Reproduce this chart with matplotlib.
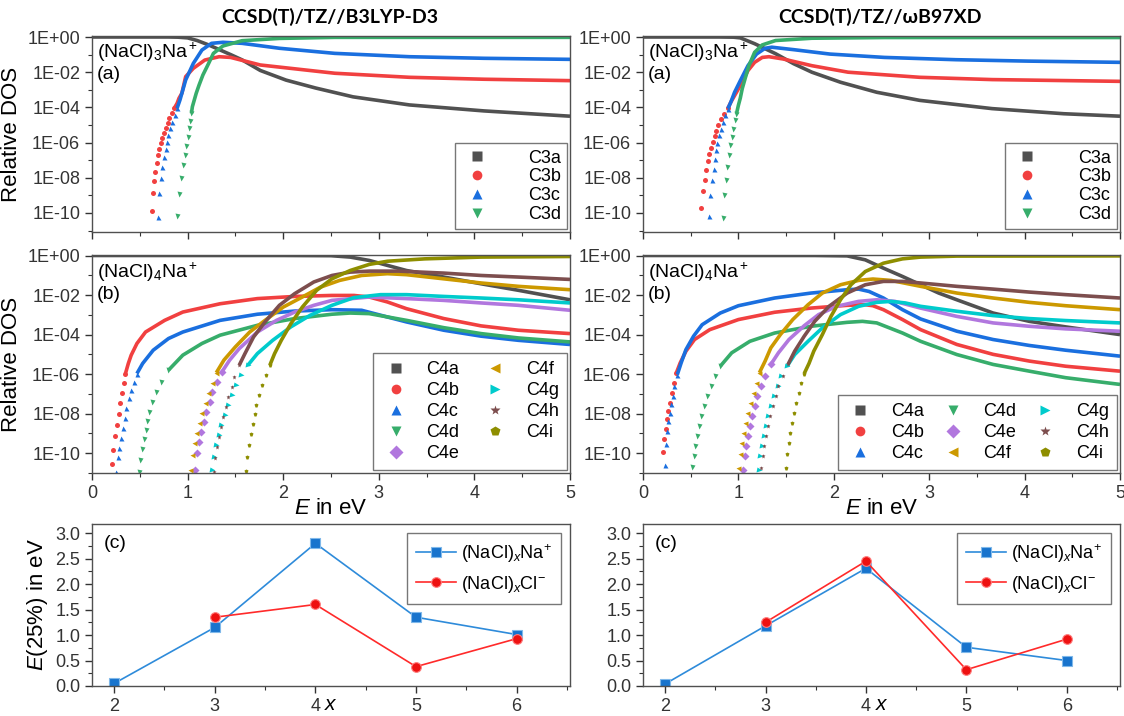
import matplotlib
matplotlib.use("Agg")
import matplotlib.pyplot as plt
import numpy as np
from matplotlib.lines import Line2D
from matplotlib.ticker import FixedLocator, FuncFormatter, MultipleLocator

plt.rcParams["font.family"] = ["Liberation Sans", "DejaVu Sans"]
plt.rcParams["mathtext.fontset"] = "custom"
plt.rcParams["mathtext.rm"] = "Liberation Sans"
plt.rcParams["mathtext.it"] = "Liberation Sans:italic"

# ---- data: energy in eV, log10 of relative DOS ----
# (a) (NaCl)3Na+, B3LYP-D3 geometries
b3_c3a_e = [0.0, 0.5, 0.8, 0.9, 1.0, 1.1, 1.22, 1.45, 1.57, 1.76, 2.03, 2.34, 2.73, 3.32, 4.1, 5.0]
b3_c3a_lg = [0, 0, 0, -0.01, -0.05, -0.2, -0.45, -1.0, -1.3, -1.9, -2.45, -2.9, -3.4, -3.86, -4.2, -4.5]
b3_c3b_e = [0.625, 0.633, 0.65, 0.664, 0.68, 0.69, 0.70, 0.72, 0.73, 0.75, 0.77, 0.79, 0.81, 0.84,
            0.86, 0.89, 0.91, 0.94, 0.98, 1.06, 1.18, 1.33, 1.45, 1.76, 2.54, 3.32, 4.1, 5.0]
b3_c3b_lg = [-9.87, -8.88, -8.18, -7.65, -7.14, -6.70, -6.36, -6.04, -5.76, -5.47, -5.19, -4.9, -4.62, -4.34,
             -4.05, -3.77, -3.48, -3.2, -2.25, -1.78, -1.31, -1.12, -1.16, -1.59, -2.06, -2.29, -2.4, -2.48]
b3_c3c_e = [0.69, 0.70, 0.72, 0.73, 0.75, 0.77, 0.78, 0.80, 0.82, 0.84, 0.87, 0.89, 0.92,
            0.98, 1.06, 1.15, 1.25, 1.37, 1.57, 1.96, 2.54, 3.32, 4.1, 5.0]
b3_c3c_lg = [-10.25, -8.88, -8.03, -7.37, -6.8, -6.36, -5.95, -5.57, -5.19, -4.81, -4.43, -4.05, -3.58,
             -2.44, -1.5, -0.74, -0.36, -0.3, -0.36, -0.64, -0.93, -1.12, -1.21, -1.27]
b3_c3d_e = [0.89, 0.91, 0.93, 0.95, 0.97, 0.98, 1.0, 1.01, 1.02, 1.04, 1.05, 1.07, 1.09,
            1.12, 1.16, 1.22, 1.27, 1.37, 1.57, 1.96, 2.54, 5.0]
b3_c3d_lg = [-10.2, -8.93, -8.03, -7.27, -6.7, -6.2, -5.66, -5.19, -4.76, -4.34, -3.96, -3.58, -3.2,
             -2.73, -2.16, -1.5, -0.93, -0.51, -0.21, -0.08, -0.02, -0.02]

# (a) (NaCl)3Na+, wB97XD geometries
wb_c3a_e = [0.0, 0.5, 0.8, 0.95, 1.02, 1.17, 1.39, 1.58, 1.77, 2.07, 2.45, 2.9, 3.66, 4.41, 5.0]
wb_c3a_lg = [0, 0, 0, -0.01, -0.05, -0.38, -0.95, -1.52, -2.0, -2.57, -3.14, -3.6, -4.07, -4.36, -4.5]
wb_c3b_e = [0.61, 0.63, 0.645, 0.66, 0.68, 0.69, 0.71, 0.73, 0.75, 0.77, 0.79, 0.82, 0.85, 0.89,
            0.92, 0.98, 1.04, 1.1, 1.17, 1.25, 1.32, 1.47, 1.77, 2.15, 2.9, 3.66, 5.0]
wb_c3b_lg = [-9.72, -8.76, -8.12, -7.53, -7.07, -6.64, -6.3, -5.98, -5.64, -5.32, -5.0, -4.66, -4.38, -4.05,
             -3.71, -3.14, -2.57, -1.91, -1.44, -1.16, -1.12, -1.25, -1.63, -2.0, -2.29, -2.42, -2.52]
wb_c3c_e = [0.69, 0.70, 0.72, 0.74, 0.75, 0.77, 0.78, 0.80, 0.82, 0.84, 0.86, 0.89, 0.92,
            0.96, 1.02, 1.1, 1.19, 1.28, 1.35, 1.58, 1.96, 2.53, 3.28, 4.03, 5.0]
wb_c3c_lg = [-10.17, -8.96, -8.14, -7.48, -6.95, -6.44, -6.0, -5.58, -5.2, -4.83, -4.45, -4.07, -3.71,
             -3.14, -2.48, -1.63, -0.97, -0.64, -0.58, -0.72, -0.97, -1.16, -1.29, -1.37, -1.44]
wb_c3d_e = [0.84, 0.85, 0.87, 0.88, 0.90, 0.91, 0.93, 0.94, 0.96, 0.98, 1.0, 1.02, 1.04,
            1.07, 1.11, 1.17, 1.25, 1.39, 1.77, 2.53, 5.0]
wb_c3d_lg = [-10.28, -9.0, -8.14, -7.39, -6.72, -6.16, -5.68, -5.2, -4.73, -4.36, -3.88, -3.47, -2.94,
             -2.37, -1.63, -0.87, -0.45, -0.2, -0.07, -0.03, -0.03]

# (b) (NaCl)4Na+, B3LYP-D3 geometries
b3_c4a_e = [0.0, 1.0, 2.0, 2.5, 2.7, 2.9, 3.09, 3.29, 3.68, 4.07, 4.46, 5.0]
b3_c4a_lg = [0, 0, 0, -0.01, -0.08, -0.25, -0.5, -0.76, -1.09, -1.43, -1.76, -2.24]
b3_c4b_e = [0.21, 0.22, 0.24, 0.26, 0.28, 0.29, 0.31, 0.33, 0.35, 0.38, 0.41, 0.47, 0.56, 0.76,
            0.95, 1.34, 1.73, 2.12, 2.51, 2.74, 2.9, 3.09, 3.29, 3.68, 4.07, 4.46, 5.0]
b3_c4b_lg = [-10.54, -9.83, -9.11, -8.57, -8.02, -7.48, -6.97, -6.47, -5.97, -5.46, -5.04, -4.45, -3.87, -3.28,
             -2.86, -2.44, -2.18, -2.07, -2.02, -2.02, -2.1, -2.35, -2.69, -3.19, -3.56, -3.78, -3.95]
b3_c4c_e = [0.25, 0.27, 0.28, 0.30, 0.32, 0.34, 0.36, 0.39, 0.41, 0.44, 0.47, 0.53, 0.64, 0.80,
            0.95, 1.34, 1.73, 2.12, 2.51, 2.82, 3.09, 3.29, 3.68, 4.07, 4.46, 5.0]
b3_c4c_lg = [-10.97, -10.17, -9.75, -9.24, -8.74, -8.24, -7.73, -7.23, -6.81, -6.39, -5.97, -5.46, -4.79, -4.2,
             -3.87, -3.28, -2.97, -2.81, -2.74, -2.77, -3.11, -3.36, -3.78, -4.08, -4.29, -4.5]
b3_c4d_e = [0.49, 0.50, 0.52, 0.54, 0.56, 0.58, 0.60, 0.63, 0.67, 0.72, 0.80, 0.95, 1.15,
            1.34, 1.73, 2.12, 2.51, 2.7, 2.9, 3.29, 3.68, 4.07, 4.46, 5.0]
b3_c4d_lg = [-10.97, -10.34, -9.8, -9.29, -8.82, -8.37, -7.9, -7.39, -6.89, -6.39, -5.8, -5.04, -4.45,
             -4.03, -3.53, -3.19, -2.97, -2.91, -2.94, -3.28, -3.65, -3.95, -4.17, -4.37]
b3_c4e_e = [1.08, 1.10, 1.12, 1.14, 1.17, 1.19, 1.23, 1.26, 1.31, 1.36, 1.44, 1.54, 1.73, 1.93,
            2.12, 2.32, 2.51, 2.9, 3.29, 3.68, 4.07, 4.46, 5.0]
b3_c4e_lg = [-10.84, -10.0, -9.41, -8.91, -8.4, -7.9, -7.39, -6.89, -6.39, -5.88, -5.29, -4.71, -3.87, -3.28,
             -2.86, -2.52, -2.27, -2.1, -2.18, -2.27, -2.4, -2.52, -2.77]
b3_c4f_e = [1.03, 1.05, 1.07, 1.09, 1.12, 1.14, 1.18, 1.21, 1.25, 1.30, 1.38, 1.50, 1.65, 1.81,
            2.0, 2.2, 2.39, 2.59, 2.82, 3.09, 3.29, 3.68, 4.07, 4.46, 5.0]
b3_c4f_lg = [-10.84, -10.08, -9.5, -8.96, -8.45, -7.95, -7.45, -6.94, -6.44, -5.93, -5.29, -4.62, -3.87, -3.28,
             -2.61, -2.1, -1.6, -1.26, -1.01, -0.92, -0.97, -1.18, -1.39, -1.56, -1.73]
b3_c4g_e = [1.26, 1.28, 1.30, 1.33, 1.35, 1.39, 1.42, 1.46, 1.51, 1.56, 1.63, 1.73, 1.89, 2.08,
            2.28, 2.51, 2.74, 3.02, 3.29, 3.68, 4.07, 4.46, 5.0]
b3_c4g_lg = [-10.87, -10.17, -9.58, -9.08, -8.57, -8.07, -7.56, -7.06, -6.55, -6.05, -5.55, -4.96, -4.29, -3.61,
             -3.03, -2.52, -2.13, -1.98, -1.98, -2.07, -2.15, -2.24, -2.4]
b3_c4h_e = [1.28, 1.29, 1.31, 1.33, 1.35, 1.37, 1.40, 1.42, 1.46, 1.49, 1.54, 1.60, 1.69, 1.81,
            1.96, 2.12, 2.32, 2.51, 2.7, 2.9, 3.21, 3.68, 4.07, 4.46, 5.0]
b3_c4h_lg = [-10.97, -10.25, -9.66, -9.16, -8.66, -8.15, -7.65, -7.14, -6.64, -6.13, -5.55, -4.96, -4.12, -3.36,
             -2.52, -1.93, -1.34, -1.01, -0.84, -0.79, -0.79, -0.89, -1.01, -1.09, -1.21]
b3_c4i_e = [1.61, 1.62, 1.64, 1.66, 1.68, 1.70, 1.72, 1.75, 1.78, 1.82, 1.86, 1.91, 1.98, 2.08,
            2.2, 2.35, 2.51, 2.7, 2.9, 3.09, 3.48, 4.07, 5.0]
b3_c4i_lg = [-10.92, -10.17, -9.58, -9.04, -8.54, -8.03, -7.56, -7.06, -6.55, -6.05, -5.55, -4.96, -4.29, -3.45,
             -2.61, -1.76, -1.18, -0.76, -0.45, -0.29, -0.17, -0.08, -0.05]

# (b) (NaCl)4Na+, wB97XD geometries
wb_c4a_e = [0.0, 1.0, 1.8, 2.14, 2.33, 2.52, 2.72, 2.91, 3.1, 3.29, 3.67, 4.05, 4.43, 5.0]
wb_c4a_lg = [0, 0, 0, -0.02, -0.22, -0.64, -1.06, -1.48, -1.9, -2.24, -2.91, -3.33, -3.61, -4.0]
wb_c4b_e = [0.21, 0.22, 0.24, 0.25, 0.26, 0.28, 0.30, 0.32, 0.35, 0.39, 0.45, 0.54, 0.70, 1.0,
            1.38, 1.76, 2.14, 2.33, 2.41, 2.52, 2.72, 2.91, 3.29, 3.67, 4.05, 4.43, 5.0]
wb_c4b_lg = [-9.92, -9.29, -8.79, -8.29, -7.87, -7.45, -6.94, -6.44, -5.93, -5.43, -4.84, -4.25, -3.75, -3.24,
             -2.87, -2.66, -2.52, -2.49, -2.54, -2.74, -3.24, -3.75, -4.5, -5.0, -5.34, -5.6, -5.85]
wb_c4c_e = [0.23, 0.24, 0.25, 0.26, 0.28, 0.29, 0.31, 0.33, 0.36, 0.40, 0.45, 0.53, 0.62, 0.81,
            1.0, 1.38, 1.76, 2.14, 2.26, 2.37, 2.52, 2.72, 2.91, 3.29, 3.67, 4.05, 4.43, 5.0]
wb_c4c_lg = [-10.6, -9.55, -8.87, -8.37, -7.95, -7.53, -7.11, -6.61, -6.02, -5.43, -4.76, -4.08, -3.5, -2.91,
             -2.54, -2.15, -1.9, -1.73, -1.7, -1.82, -2.15, -2.74, -3.21, -3.83, -4.25, -4.55, -4.79, -5.09]
wb_c4d_e = [0.51, 0.53, 0.55, 0.57, 0.59, 0.61, 0.64, 0.67, 0.71, 0.75, 0.81, 0.93, 1.12,
            1.38, 1.76, 2.14, 2.3, 2.45, 2.72, 2.91, 3.29, 3.67, 4.05, 4.43, 5.0]
wb_c4d_lg = [-10.72, -10.13, -9.63, -9.13, -8.62, -8.12, -7.61, -7.11, -6.61, -6.1, -5.6, -4.92, -4.34,
             -3.92, -3.58, -3.38, -3.33, -3.41, -3.92, -4.34, -5.01, -5.51, -5.85, -6.18, -6.52]
wb_c4e_e = [1.05, 1.07, 1.08, 1.10, 1.12, 1.14, 1.17, 1.2, 1.24, 1.28, 1.34, 1.42, 1.53, 1.69,
            1.84, 2.03, 2.26, 2.45, 2.64, 2.91, 3.29, 3.67, 4.05, 4.43, 5.0]
wb_c4e_lg = [-10.84, -10.13, -9.63, -9.13, -8.62, -8.12, -7.61, -7.11, -6.61, -6.1, -5.51, -4.92, -4.25, -3.55,
             -2.99, -2.57, -2.32, -2.24, -2.32, -2.66, -3.08, -3.41, -3.58, -3.71, -3.83]
wb_c4f_e = [1.0, 1.02, 1.03, 1.05, 1.07, 1.09, 1.12, 1.15, 1.18, 1.22, 1.28, 1.34, 1.44, 1.57,
            1.73, 1.88, 2.07, 2.26, 2.41, 2.6, 2.91, 3.29, 3.67, 4.05, 4.43, 5.0]
wb_c4f_lg = [-10.77, -10.05, -9.5, -8.96, -8.45, -7.95, -7.45, -6.94, -6.44, -5.93, -5.34, -4.67, -4.0, -3.24,
             -2.49, -1.9, -1.48, -1.26, -1.19, -1.26, -1.56, -1.9, -2.15, -2.37, -2.54, -2.74]
wb_c4g_e = [1.22, 1.23, 1.25, 1.27, 1.29, 1.31, 1.34, 1.37, 1.41, 1.45, 1.51, 1.59, 1.73, 1.88,
            2.07, 2.26, 2.45, 2.6, 2.75, 2.91, 3.29, 3.67, 4.05, 4.43, 5.0]
wb_c4g_lg = [-10.84, -10.13, -9.63, -9.13, -8.62, -8.12, -7.61, -7.11, -6.61, -6.1, -5.6, -5.01, -4.34, -3.66,
             -2.99, -2.57, -2.37, -2.32, -2.4, -2.57, -2.82, -3.04, -3.19, -3.29, -3.41]
wb_c4h_e = [1.24, 1.26, 1.27, 1.29, 1.31, 1.33, 1.36, 1.39, 1.42, 1.47, 1.52, 1.59, 1.69, 1.8,
            1.95, 2.14, 2.33, 2.52, 2.72, 2.91, 3.29, 3.67, 4.05, 4.43, 5.0]
wb_c4h_lg = [-10.77, -10.13, -9.63, -9.13, -8.62, -8.12, -7.61, -7.11, -6.61, -6.1, -5.51, -4.84, -4.08, -3.33,
             -2.57, -1.9, -1.48, -1.31, -1.31, -1.39, -1.56, -1.7, -1.85, -1.98, -2.15]
wb_c4i_e = [1.5, 1.51, 1.53, 1.54, 1.56, 1.58, 1.6, 1.63, 1.66, 1.69, 1.74, 1.79, 1.88, 1.97,
            2.07, 2.18, 2.33, 2.52, 2.72, 2.91, 3.29, 5.0]
wb_c4i_lg = [-10.77, -10.05, -9.5, -8.99, -8.49, -7.98, -7.48, -6.97, -6.47, -5.97, -5.46, -4.84, -4.0, -3.08,
             -2.24, -1.48, -0.81, -0.39, -0.17, -0.08, -0.03, -0.02]

# (c) energy at 25 % vs cluster size x
x_na = [2, 3, 4, 5, 6]
x_cl = [3, 4, 5, 6]
b3_e25_na = [0.05, 1.15, 2.80, 1.35, 1.01]
b3_e25_cl = [1.35, 1.60, 0.38, 0.93]
wb_e25_na = [0.04, 1.18, 2.31, 0.76, 0.50]
wb_e25_cl = [1.25, 2.45, 0.32, 0.92]

labels3 = ["C3a", "C3b", "C3c", "C3d"]
labels4 = ["C4a", "C4b", "C4c", "C4d", "C4e", "C4f", "C4g", "C4h", "C4i"]
colors = ["#515151", "#F14040", "#1A6FDF", "#37AD6B", "#B177DE",
          "#CC9900", "#00CBCC", "#7D4E4E", "#8E8E00"]
markers = ["s", "o", "^", "v", "D", "<", ">", "*", "p"]

b3_c3 = [(b3_c3a_e, b3_c3a_lg), (b3_c3b_e, b3_c3b_lg), (b3_c3c_e, b3_c3c_lg), (b3_c3d_e, b3_c3d_lg)]
wb_c3 = [(wb_c3a_e, wb_c3a_lg), (wb_c3b_e, wb_c3b_lg), (wb_c3c_e, wb_c3c_lg), (wb_c3d_e, wb_c3d_lg)]
b3_c4 = [(b3_c4a_e, b3_c4a_lg), (b3_c4b_e, b3_c4b_lg), (b3_c4c_e, b3_c4c_lg), (b3_c4d_e, b3_c4d_lg),
         (b3_c4e_e, b3_c4e_lg), (b3_c4f_e, b3_c4f_lg), (b3_c4g_e, b3_c4g_lg), (b3_c4h_e, b3_c4h_lg),
         (b3_c4i_e, b3_c4i_lg)]
wb_c4 = [(wb_c4a_e, wb_c4a_lg), (wb_c4b_e, wb_c4b_lg), (wb_c4c_e, wb_c4c_lg), (wb_c4d_e, wb_c4d_lg),
         (wb_c4e_e, wb_c4e_lg), (wb_c4f_e, wb_c4f_lg), (wb_c4g_e, wb_c4g_lg), (wb_c4h_e, wb_c4h_lg),
         (wb_c4i_e, wb_c4i_lg)]

SPINE = "#505050"


def _style(ax):
    for s in ax.spines.values():
        s.set_color(SPINE)
        s.set_linewidth(1.0)
    ax.tick_params(which="both", direction="out", colors="#333333", labelsize=13)
    ax.tick_params(which="major", length=5, width=1.0)
    ax.tick_params(which="minor", length=3, width=0.8)


def dos_panel(ax, series, labels, tail_cut, ylim, show_xlabels, **legkw):
    for (e, lg), c, m in zip(series, colors, markers):
        e = np.asarray(e, float)
        lg = np.asarray(lg, float)
        y = 10.0 ** lg
        # steep low-energy tail: separate dots; rest: dense band drawn as a thick line
        first = np.nonzero(lg >= tail_cut)[0][0]
        i0 = max(first - 1, 0)
        ax.plot(e[i0:], y[i0:], color=c, lw=2.6, solid_joinstyle="round", solid_capstyle="butt")
        ax.plot(e[:first], y[:first], ls="none", marker=m, ms=3.6, color=c, mec="none")
    ax.set_yscale("log")
    ax.set_xlim(0, 5)
    ax.set_ylim(*ylim)
    ax.yaxis.set_major_locator(FixedLocator([10.0 ** k for k in range(0, -11, -2)]))
    ax.yaxis.set_minor_locator(FixedLocator([10.0 ** k for k in range(-1, -12, -2)]))
    ax.yaxis.set_major_formatter(FuncFormatter(lambda v, p: f"1E{int(round(np.log10(v))):+03d}"))
    ax.yaxis.set_minor_formatter(FuncFormatter(lambda v, p: ""))
    ax.xaxis.set_major_locator(MultipleLocator(1))
    ax.xaxis.set_minor_locator(MultipleLocator(0.5))
    _style(ax)
    if not show_xlabels:
        ax.tick_params(labelbottom=False)
    handles = [Line2D([], [], ls="none", marker=m, color=c, mec="none", ms=7)
               for c, m in zip(colors, markers)][:len(labels)]
    kw = dict(loc="lower right", fontsize=13, frameon=True, fancybox=False, framealpha=1,
              edgecolor="#777777", borderaxespad=0.15, handletextpad=0.9, labelspacing=0.22,
              columnspacing=1.2, handlelength=1.6, borderpad=0.45)
    kw.update(legkw)
    leg = ax.legend(handles, labels, **kw)
    leg.get_frame().set_linewidth(1.0)


def e25_panel(ax, na, cl):
    ax.plot(x_na, na, color="#2E8BDA", lw=1.2, marker="s", ms=7, mfc="#1874CD", mec="#7FB8EA", mew=0.8,
            label=r"(NaCl)$_\mathit{x}$Na$^{+}$")
    ax.plot(x_cl, cl, color="#FF2A2A", lw=1.2, marker="o", ms=7, mfc="#EE1111", mec="#FF8080", mew=0.8,
            label=r"(NaCl)$_\mathit{x}$Cl$^{-}$")
    ax.set_xlim(1.78, 6.53)
    ax.set_ylim(0, 3.18)
    ax.xaxis.set_major_locator(MultipleLocator(1))
    ax.xaxis.set_minor_locator(MultipleLocator(0.5))
    ax.yaxis.set_major_locator(MultipleLocator(0.5))
    ax.yaxis.set_minor_locator(MultipleLocator(0.25))
    ax.yaxis.set_major_formatter(FuncFormatter(lambda v, p: f"{v:.1f}"))
    _style(ax)
    leg = ax.legend(loc="upper right", fontsize=13, frameon=True, fancybox=False, framealpha=1,
                    edgecolor="#777777", borderaxespad=0.5, handlelength=2.2, handletextpad=0.3,
                    labelspacing=0.5, borderpad=0.5)
    leg.get_frame().set_linewidth(1.0)
    ax.text(0.025, 0.93, "(c)", transform=ax.transAxes, fontsize=14, va="top", ha="left")
    ax.set_xlabel(r"$x$", fontsize=15, labelpad=-14)


W, H = 1124, 716
fig = plt.figure(figsize=(W / 100, H / 100), dpi=100)


def add_ax(l, r, t, b):
    return fig.add_axes([l / W, 1 - b / H, (r - l) / W, (b - t) / H])


cols = [(92, 570), (643, 1120)]
ax_a = [add_ax(l, r, 36, 232) for l, r in cols]
ax_b = [add_ax(l, r, 255, 473) for l, r in cols]
ax_c = [add_ax(l, r, 524, 686) for l, r in cols]

for ax, data in zip(ax_a, [b3_c3, wb_c3]):
    dos_panel(ax, data, labels3, -4.0, (8.3e-12, 1.14), False,
              ncol=1, handletextpad=1.9, labelspacing=0.1, borderpad=0.35, handlelength=1.8)
for ax, data, n, cs in zip(ax_b, [b3_c4, wb_c4], [2, 3], [1.2, 0.8]):
    dos_panel(ax, data, labels4, -5.5, (1e-11, 1.06), True, ncol=n, columnspacing=cs)

for ax in ax_a:
    ax.text(0.01, 0.975, "(NaCl)$_3$Na$^+$\n(a)", transform=ax.transAxes, fontsize=14,
            va="top", ha="left", linespacing=1.15)
for ax in ax_b:
    ax.text(0.01, 0.975, "(NaCl)$_4$Na$^+$\n(b)", transform=ax.transAxes, fontsize=14,
            va="top", ha="left", linespacing=1.15)
    ax.set_xlabel(r"$E$ in eV", fontsize=16, labelpad=-3)

ax_a[0].set_ylabel("Relative DOS", fontsize=16, labelpad=4)
ax_b[0].set_ylabel("Relative DOS", fontsize=16, labelpad=4)

e25_panel(ax_c[0], b3_e25_na, b3_e25_cl)
e25_panel(ax_c[1], wb_e25_na, wb_e25_cl)
ax_c[0].set_ylabel(r"$E$(25%) in eV", fontsize=16, labelpad=4)

fig.text(330 / W, 1 - 17 / H, "CCSD(T)/TZ//B3LYP-D3", ha="center", va="center",
         fontsize=14, fontweight="bold", family=["Lato", "DejaVu Sans"])
fig.text(880 / W, 1 - 17 / H, "CCSD(T)/TZ//\u03c9B97XD", ha="center", va="center",
         fontsize=14, fontweight="bold", family=["Lato", "DejaVu Sans"])

fig.savefig("out.png", dpi=100)
